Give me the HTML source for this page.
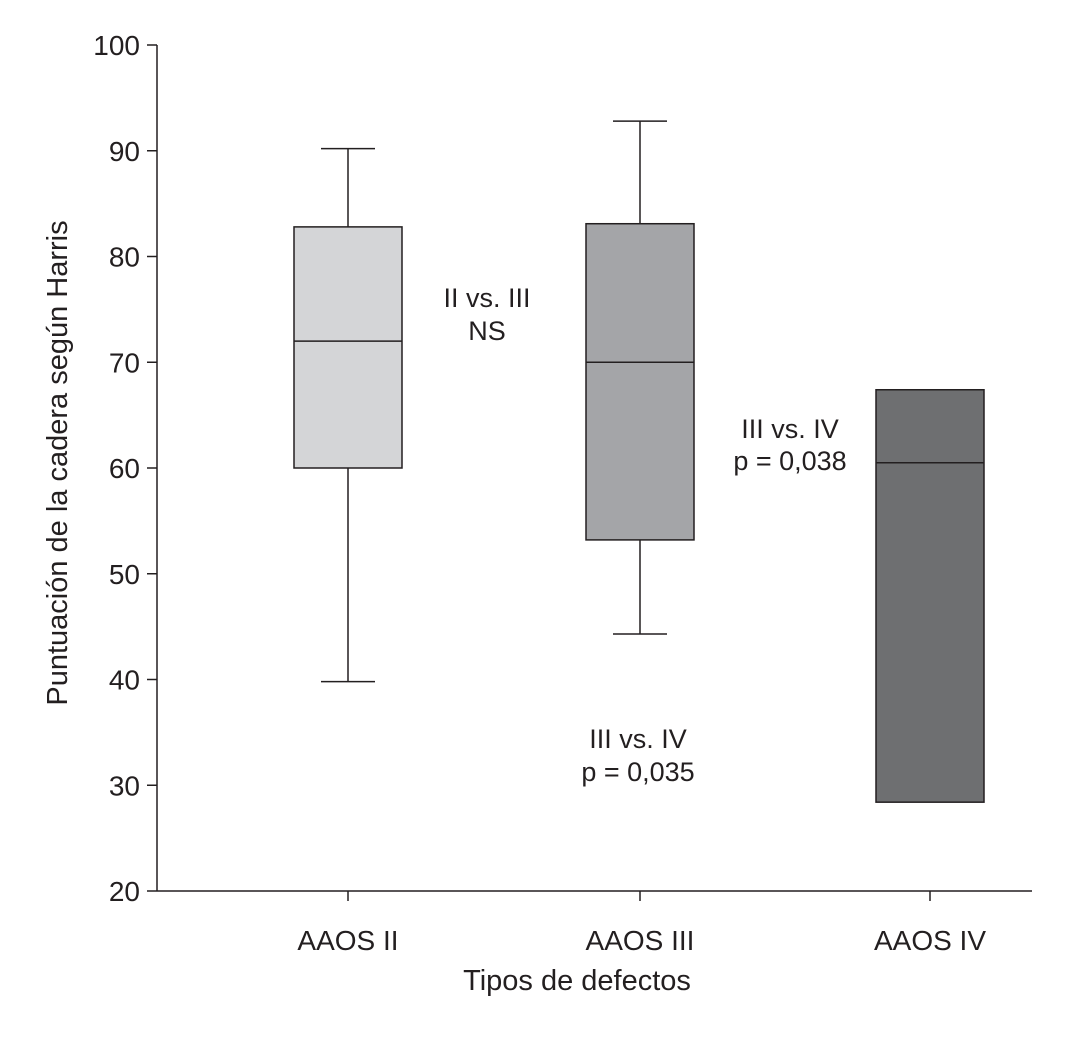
<!DOCTYPE html>
<html><head><meta charset="utf-8"><style>
body{margin:0;background:#fff;}
svg text{font-family:"Liberation Sans",sans-serif;fill:#231f20;}
</style></head><body>
<svg id="chart" width="1066" height="1033">
<g id="axes"></g><g id="boxes"></g><g id="notes"></g>
</svg>
<script>
const categories=["AAOS II","AAOS III","AAOS IV"];
const whiskerMax=[90.2,92.8,null];
const q3=[82.8,83.1,67.4];
const medians=[72,70,60.5];
const q1=[60,53.2,28.4];
const whiskerMin=[39.8,44.3,null];
const yTicks=[20,30,40,50,60,70,80,90,100];
const colors=["#d4d5d7","#a4a5a8","#6e6f71"];
const NS="http://www.w3.org/2000/svg";
const y=v=>891-(v-20)*(846/80);
const xc=[348,640,930];
const bw=108;
function mk(t,a,p){const e=document.createElementNS(NS,t);for(const k in a)e.setAttribute(k,a[k]);p.appendChild(e);return e;}
const ax=document.getElementById('axes');
let l=mk('line',{x1:157,y1:45,x2:157,y2:891,stroke:'#231f20','stroke-width':1.5},ax);


l=mk('line',{x1:157,y1:891,x2:1032,y2:891,stroke:'#231f20','stroke-width':1.5},ax);


yTicks.forEach(v=>{
 mk('line',{x1:147,y1:y(v),x2:157,y2:y(v),stroke:'#231f20','stroke-width':1.5},ax);
 const t=mk('text',{x:140,y:y(v)+10,'text-anchor':'end','font-size':28},ax);t.textContent=v;
 
 
});
categories.forEach((c,i)=>{
 mk('line',{x1:xc[i],y1:891,x2:xc[i],y2:901,stroke:'#231f20','stroke-width':1.5},ax);
 const t=mk('text',{x:xc[i],y:950,'text-anchor':'middle','font-size':28},ax);t.textContent=c;
 
 
});
let t=mk('text',{x:577,y:990,'text-anchor':'middle','font-size':29},ax);t.textContent="Tipos de defectos";


t=mk('text',{x:0,y:0,'text-anchor':'middle','font-size':29,transform:'translate(67,463) rotate(-90)'},ax);t.textContent="Puntuación de la cadera según Harris";


const bx=document.getElementById('boxes');
categories.forEach((c,i)=>{
 const g=mk('g',{},bx);
 
 
 const st={stroke:'#231f20','stroke-width':1.5};
 if(whiskerMax[i]!=null){
  mk('line',Object.assign({x1:xc[i],y1:y(whiskerMax[i]),x2:xc[i],y2:y(q3[i])},st),g);
  mk('line',Object.assign({x1:xc[i]-27,y1:y(whiskerMax[i]),x2:xc[i]+27,y2:y(whiskerMax[i])},st),g);
 }
 if(whiskerMin[i]!=null){
  mk('line',Object.assign({x1:xc[i],y1:y(q1[i]),x2:xc[i],y2:y(whiskerMin[i])},st),g);
  mk('line',Object.assign({x1:xc[i]-27,y1:y(whiskerMin[i]),x2:xc[i]+27,y2:y(whiskerMin[i])},st),g);
 }
 mk('rect',Object.assign({x:xc[i]-bw/2,y:y(q3[i]),width:bw,height:y(q1[i])-y(q3[i]),fill:colors[i]},st),g);
 mk('line',Object.assign({x1:xc[i]-bw/2,y1:y(medians[i]),x2:xc[i]+bw/2,y2:y(medians[i])},st),g);
});
const notes=[["II vs. III",487,307],["NS",487,340],["III vs. IV",790,438],["p = 0,038",790,470],["III vs. IV",638,748],["p = 0,035",638,781]];
const ng=document.getElementById('notes');
notes.forEach(n=>{const e=mk('text',{x:n[1],y:n[2],'text-anchor':'middle','font-size':27},ng);e.textContent=n[0];
 
 });
</script>
</body></html>
